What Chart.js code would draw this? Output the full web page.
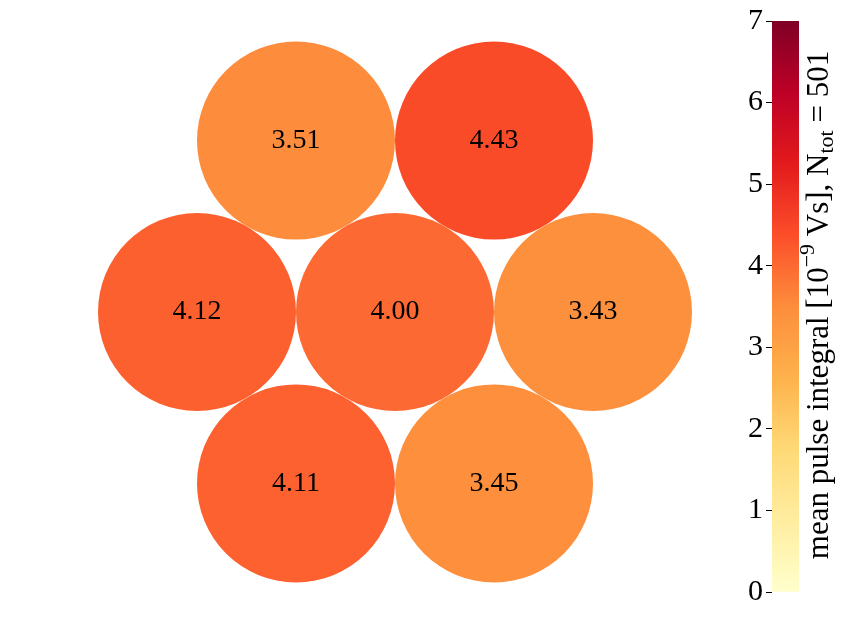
<!DOCTYPE html>
<html>
<head>
<meta charset="utf-8">
<script src="https://cdn.jsdelivr.net/npm/chart.js@4/dist/chart.umd.min.js"></script>
<style>
  body { margin: 0; background: #fff; }
  #wrap { position: relative; width: 847px; height: 632px; }
  #cells { position: absolute; left: 0; top: 0; }
  #cbar { position: absolute; left: 730px; top: 0; }
</style>
</head>
<body>
<div id="wrap">
  <canvas id="cells" width="847" height="632"></canvas>
  <canvas id="cbar" width="117" height="632"></canvas>
</div>
<script>
// channel layout (hex grid, neighbour distance = 1) and measured values
var channels = ['top left', 'top right', 'middle left', 'centre', 'middle right', 'bottom left', 'bottom right'];
var xPos = [-0.5, 0.5, -1, 0, 1, -0.5, 0.5];
var yPos = [0.866, 0.866, 0, 0, 0, -0.866, -0.866];
var meanIntegral = [3.51, 4.43, 4.12, 4.00, 3.43, 4.11, 3.45];

// colour bar range and ticks
var cbMin = 0;
var cbMax = 7;
var cbTicks = [0, 1, 2, 3, 4, 5, 6, 7];

// YlOrRd colormap stops
var ylOrRd = ['#ffffcc', '#ffeda0', '#fed976', '#feb24c', '#fd8d3c', '#fc4e2a', '#e31a1c', '#bd0026', '#800026'];

var serif = '"Liberation Serif", "DejaVu Serif", serif';

// visible data window of the cell map
var xMin = -395 / 198, xMax = (847 - 395) / 198;
var yMin = -(632 - 312) / 198, yMax = 312 / 198;

function hexToRgb(h) {
	return [parseInt(h.substr(1, 2), 16), parseInt(h.substr(3, 2), 16), parseInt(h.substr(5, 2), 16)];
}

function cmap(v) {
	var t = (v - cbMin) / (cbMax - cbMin);
	t = Math.max(0, Math.min(1, t));
	var pos = t * (ylOrRd.length - 1);
	var i = Math.min(Math.floor(pos), ylOrRd.length - 2);
	var f = pos - i;
	var a = hexToRgb(ylOrRd[i]);
	var b = hexToRgb(ylOrRd[i + 1]);
	var c = [0, 1, 2].map(function(k) { return Math.round(a[k] + (b[k] - a[k]) * f); });
	return 'rgb(' + c.join(',') + ')';
}

var points = [];
for (var i = 0; i < channels.length; i++) {
	points.push({ x: xPos[i], y: yPos[i] });
}

/* writes the value in the middle of each circle */
var valueLabels = {
	id: 'valueLabels',
	afterDatasetsDraw: function(chart) {
		var ctx = chart.ctx;
		var meta = chart.getDatasetMeta(0);
		ctx.save();
		ctx.font = '28px ' + serif;
		ctx.fillStyle = '#000';
		ctx.textAlign = 'center';
		ctx.textBaseline = 'middle';
		meta.data.forEach(function(el, idx) {
			ctx.fillText(meanIntegral[idx].toFixed(2), el.x, el.y);
		});
		ctx.restore();
	}
};

var cellChart = new Chart(document.getElementById('cells').getContext('2d'), {
	type: 'bubble',
	data: {
		labels: channels,
		datasets: [{
			data: points,
			backgroundColor: meanIntegral.map(cmap),
			borderWidth: 0,
			// circle radius = half the distance between neighbours, in pixels
			radius: function(c) {
				return 0.5 * c.chart.width / (xMax - xMin);
			}
		}]
	},
	options: {
		responsive: false,
		animation: false,
		events: [],
		layout: { padding: 0, autoPadding: false },
		plugins: { legend: { display: false }, tooltip: { enabled: false } },
		scales: {
			x: { type: 'linear', display: false, min: xMin, max: xMax },
			y: { type: 'linear', display: false, min: yMin, max: yMax }
		}
	},
	plugins: [valueLabels]
});

/* rotated colour bar label with super- and subscript */
var cbTitle = {
	id: 'cbTitle',
	afterDraw: function(chart) {
		var ctx = chart.ctx;
		var size = 31;
		var parts = [
			{ t: 'mean pulse integral [10', s: 1, dy: 0 },
			{ t: '\u22129', s: 0.7, dy: -0.38 },
			{ t: ' Vs], N', s: 1, dy: 0 },
			{ t: 'tot', s: 0.7, dy: 0.22 },
			{ t: ' = 501', s: 1, dy: 0 }
		];
		ctx.save();
		ctx.fillStyle = '#000';
		ctx.textBaseline = 'middle';
		ctx.textAlign = 'left';
		var total = 0;
		parts.forEach(function(p) {
			ctx.font = Math.round(size * p.s) + 'px ' + serif;
			p.w = ctx.measureText(p.t).width;
			total += p.w;
		});
		ctx.translate(90, 305);
		ctx.rotate(-Math.PI / 2);
		var x = -total / 2;
		parts.forEach(function(p) {
			ctx.font = Math.round(size * p.s) + 'px ' + serif;
			ctx.fillText(p.t, x, p.dy * size);
			x += p.w;
		});
		ctx.restore();
	}
};

var cbChart = new Chart(document.getElementById('cbar').getContext('2d'), {
	type: 'bar',
	data: {
		labels: [''],
		datasets: [{
			data: [[cbMin, cbMax]],
			borderWidth: 0,
			barPercentage: 1,
			categoryPercentage: 1,
			backgroundColor: function(c) {
				var area = c.chart.chartArea;
				if (!area) return ylOrRd[4];
				var g = c.chart.ctx.createLinearGradient(0, area.bottom, 0, area.top);
				ylOrRd.forEach(function(col, k) { g.addColorStop(k / (ylOrRd.length - 1), col); });
				return g;
			}
		}]
	},
	options: {
		responsive: false,
		animation: false,
		events: [],
		layout: { padding: { left: 0, right: 48, top: 19, bottom: 40 } },
		plugins: { legend: { display: false }, tooltip: { enabled: false } },
		scales: {
			x: { display: false },
			y: {
				position: 'left',
				min: cbMin,
				max: cbMax,
				afterBuildTicks: function(axis) {
					axis.ticks = cbTicks.map(function(v) { return { value: v }; });
				},
				afterFit: function(axis) { axis.width = 42; },
				border: { display: false },
				grid: { drawOnChartArea: false, drawTicks: true, tickLength: 6, color: '#000', tickWidth: 1 },
				ticks: { color: '#000', padding: 3, font: { family: serif, size: 30 } }
			}
		}
	},
	plugins: [cbTitle]
});
cbChart.update();
</script>
</body>
</html>
